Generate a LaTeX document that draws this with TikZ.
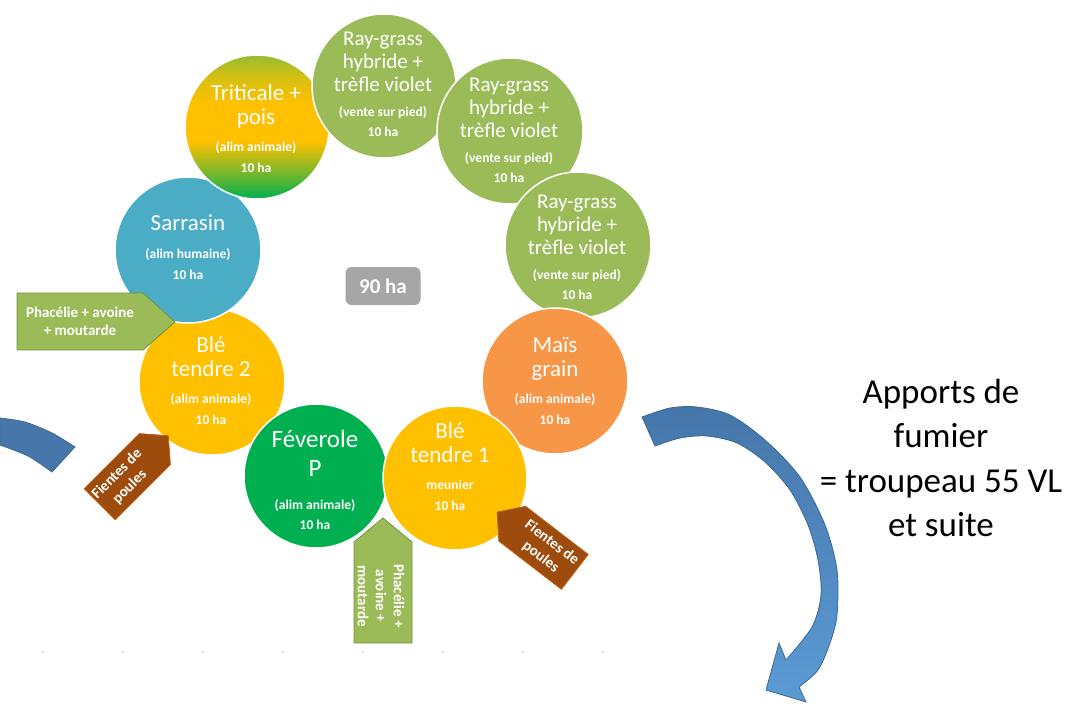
\documentclass[tikz,border=0pt]{standalone}
\usepackage{fontspec}
\setmainfont{Carlito}

\definecolor{rgGreen}{RGB}{155,187,89}
\definecolor{rgEdge}{RGB}{118,146,60}
\definecolor{sarBlue}{RGB}{75,172,198}
\definecolor{bleYellow}{RGB}{255,192,0}
\definecolor{maisOrange}{RGB}{247,150,70}
\definecolor{favGreen}{RGB}{0,176,80}
\definecolor{triTop}{RGB}{150,188,50}
\definecolor{triUp}{RGB}{215,192,15}
\definecolor{triLow}{RGB}{130,184,40}
\definecolor{fienteBrown}{RGB}{158,76,14}
\definecolor{fienteEdge}{RGB}{196,98,24}
\definecolor{arrowDark}{RGB}{70,118,170}
\definecolor{arrowLight}{RGB}{91,155,213}
\definecolor{arrowEdge}{RGB}{60,104,150}
\definecolor{boxGray}{RGB}{166,166,166}

% triticale + pois: green - yellow - green
\pgfdeclareverticalshading{triticale}{100bp}{color(0bp)=(favGreen); color(25bp)=(favGreen); color(35bp)=(triLow); color(45bp)=(bleYellow); color(58bp)=(bleYellow); color(67bp)=(triUp); color(75bp)=(triTop); color(100bp)=(triTop)}

\newcommand{\subline}{\fontsize{13.5}{16}\selectfont\bfseries}

\tikzset{
	crop/.style={draw=white,line width=1.5pt},
	croptext/.style={text=white,align=center,font=\fontsize{23}{24}\selectfont},
	rgtext/.style={croptext,font=\fontsize{21}{23}\selectfont},
	callout/.style={text=white,align=center,font=\fontsize{15}{18}\selectfont\bfseries},
	greenarrow/.style={fill=rgGreen,draw=rgEdge,line width=0.8pt},
	brownarrow/.style={fill=fienteBrown,draw=fienteEdge,line width=0.8pt}
}

\begin{document}
\begin{tikzpicture}[x=1pt,y=1pt]
		\newcommand{\cropR}{73}
		
		\useasboundingbox (0,0) rectangle (1081,-704);		% page
		
		% axis ticks left over
		\foreach \x in {43,123,...,603}
			\fill[gray!30] (\x,-652) circle (1.2);
		
		% rotation circles
		\filldraw[crop,fill=bleYellow] (212,-382) circle (\cropR);	% ble tendre 2
		\filldraw[crop,fill=sarBlue] (188,-250) circle (\cropR);		% sarrasin
		\shade[shading=triticale] (257,-127) circle (72);				% triticale
		\draw[crop] (257,-127) circle (72);
		\filldraw[crop,fill=rgGreen] (384,-86) circle (72);			% ray-grass 1
		\filldraw[crop,fill=rgGreen] (510,-131) circle (\cropR);		% ray-grass 2
		\filldraw[crop,fill=rgGreen] (578,-245) circle (\cropR);		% ray-grass 3
		\filldraw[crop,fill=maisOrange] (555,-381) circle (\cropR);	% mais
		\filldraw[crop,fill=favGreen] (316,-476) circle (72);			% feverole
		\filldraw[crop,fill=bleYellow] (455,-478) circle (72);		% ble tendre 1
		
		% texts
		\node[rgtext] (rgA) at (383,-84) {Ray-grass\\hybride +\\trèfle violet\\[2pt]\subline (vente sur pied)\\[-3pt]\subline 10 ha};
		\node[rgtext] (rgB) at (509,-130) {Ray-grass\\hybride +\\trèfle violet\\[2pt]\subline (vente sur pied)\\[-3pt]\subline 10 ha};
		\node[rgtext] (rgC) at (577,-247) {Ray-grass\\hybride +\\trèfle violet\\[2pt]\subline (vente sur pied)\\[-3pt]\subline 10 ha};
		\node[croptext] (triticale) at (256,-129) {Triticale +\\pois\\[3pt]\subline (alim animale)\\[-3pt]\subline 10 ha};
		\node[croptext] (sarrasin) at (188,-247) {Sarrasin\\[4pt]\subline (alim humaine)\\[-3pt]\subline 10 ha};
		\node[croptext] (bleB) at (211,-381) {Blé\\tendre 2\\[3pt]\subline (alim animale)\\[-3pt]\subline 10 ha};
		\node[croptext] (mais) at (555,-381) {Maïs\\grain\\[3pt]\subline (alim animale)\\[-3pt]\subline 10 ha};
		\node[croptext] (bleA) at (450,-467) {Blé\\tendre 1\\[3pt]\subline meunier\\[-3pt]\subline 10 ha};
		\node[croptext,font=\fontsize{25}{29}\selectfont] (feverole) at (315,-480) {Féverole\\P\\[4pt]\subline (alim animale)\\[-9pt]\subline 10 ha};
		
		% total
		\node[fill=boxGray,rounded corners=6pt,minimum width=75pt,minimum height=38pt,text=white,font=\fontsize{21}{24}\selectfont\bfseries] (total) at (383,-286) {90 ha};
		
		% green arrows
		\filldraw[greenarrow] (17,-293) -- (143,-293) -- (175,-322) -- (143,-350) -- (17,-350) -- cycle;
		\node[callout] (interA) at (80,-321) {Phacélie + avoine\\+ moutarde};
		\filldraw[greenarrow] (354,-643) -- (412,-643) -- (412,-542) -- (383,-518) -- (354,-542) -- cycle;
		\node[callout,rotate=-90] (interB) at (381,-596) {Phacélie +\\avoine +\\moutarde};
		
		% brown arrows
		\begin{scope}[shift={(134,-470)},rotate=45]
			\filldraw[brownarrow] (-48.5,-22) -- (29.5,-22) -- (48.5,0) -- (29.5,22) -- (-48.5,22) -- cycle;
			\node[callout,rotate=45] (fienteA) at (-15,0) {Fientes de\\poules};
		\end{scope}
		\begin{scope}[shift={(536,-542)},rotate=-37.6]
			\filldraw[brownarrow] (49,-22) -- (-30,-22) -- (-49,0) -- (-30,22) -- (49,22) -- cycle;
			\node[callout,rotate=-37.6] (fienteB) at (13,0) {Fientes de\\poules};
		\end{scope}
		
		% blue curved arrows
		\filldraw[fill=arrowDark,draw=arrowEdge,line width=0.8pt] plot[smooth] coordinates {(0,-418) (25,-422) (52,-433) (75,-447)} -- (52,-472) -- plot[smooth] coordinates {(52,-472) (28,-456) (0,-445)} -- cycle;
		\shadedraw[top color=arrowDark,bottom color=arrowLight,draw=arrowEdge,line width=0.8pt]
			plot[smooth] coordinates {(642,-417) (670,-408) (697,-407) (730,-415) (765,-440) (800,-477) (825,-525) (837,-570) (837,-615) (830,-643) (818,-670) (799,-687)}
			-- (806,-702) -- (766,-690) -- (779,-643) -- (786,-660)
			-- plot[smooth] coordinates {(786,-660) (812,-627) (821,-595) (818,-560) (808,-525) (790,-490) (765,-462) (737,-443) (707,-436) (680,-438) (655,-446)} -- cycle;
		
		\node[align=center,font=\fontsize{35}{44.5}\selectfont] (fumier) at (941,-458) {Apports de\\fumier\\= troupeau 55 VL\\et suite};
\end{tikzpicture}
\end{document}
